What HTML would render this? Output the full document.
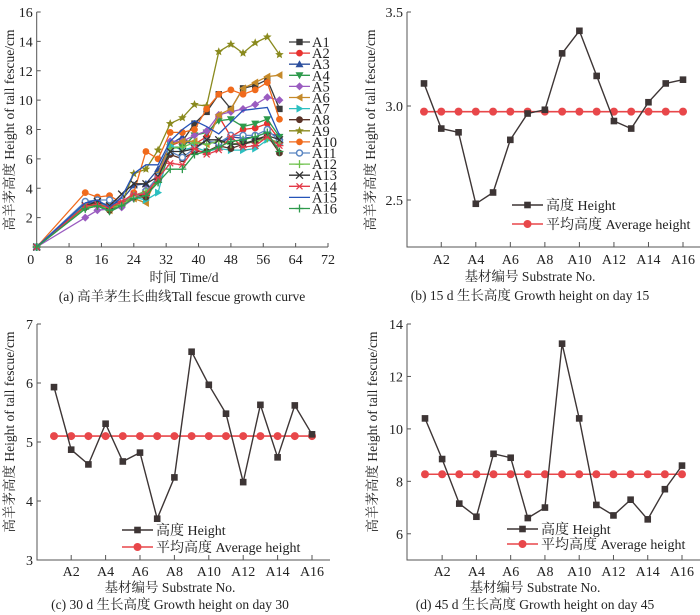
<!DOCTYPE html>
<html><head><meta charset="utf-8"><style>
html,body{margin:0;padding:0;background:#fff;}
svg{display:block;font-family:"Liberation Serif","Noto Serif CJK SC","Noto Sans CJK SC",serif;}
</style></head><body>
<svg id="chart" width="700" height="615" viewBox="0 0 700 615" xmlns="http://www.w3.org/2000/svg"></svg>
<script>
// ---- Panel (a) data ----
const days = [0,12,15,18,21,24,27,30,33,36,39,42,45,48,51,54,57,60];
const seriesNames = ["A1","A2","A3","A4","A5","A6","A7","A8","A9","A10","A11","A12","A13","A14","A15","A16"];
const sA1  = [0,3.0,3.0,2.8,3.0,3.5,3.5,4.8,7.0,7.2,8.4,9.2,10.4,9.4,10.8,11.0,11.4,9.4];
const sA2  = [0,2.9,3.0,2.6,3.1,3.5,3.6,4.7,6.9,7.2,7.0,7.5,8.9,7.5,8.0,8.1,8.4,7.3];
const sA3  = [0,2.9,3.1,2.8,3.2,4.2,4.3,5.3,7.0,7.5,6.8,7.2,7.0,7.5,7.4,7.5,7.8,7.5];
const sA4  = [0,2.6,2.8,2.4,2.8,3.3,3.5,4.5,6.8,6.8,7.6,7.8,8.6,8.7,8.2,8.4,8.7,7.5];
const sA5  = [0,2.0,2.5,2.6,2.7,3.3,3.9,4.5,7.2,7.2,7.6,7.9,9.0,9.2,9.4,9.7,10.2,10.0];
const sA6  = [0,2.8,3.0,2.5,3.0,3.3,3.0,5.0,7.0,7.2,7.2,7.0,9.0,9.4,10.8,11.2,11.6,11.7];
const sA7  = [0,2.9,3.0,2.8,3.0,3.4,3.2,3.7,6.9,6.6,6.8,6.5,6.7,6.6,6.6,6.7,7.3,7.0];
const sA8  = [0,2.7,2.9,2.5,3.0,3.4,3.4,4.6,6.3,6.0,6.5,6.5,6.9,6.7,7.0,7.2,7.6,6.4];
const sA9  = [0,2.8,3.0,2.6,3.0,5.0,5.3,6.6,8.4,8.8,9.7,9.6,13.3,13.8,13.2,13.9,14.3,13.1];
const sA10 = [0,3.7,3.4,3.5,3.0,3.7,6.5,6.0,7.8,7.8,8.0,9.4,10.4,10.7,10.4,10.7,11.2,8.7];
const sA11 = [0,3.1,3.2,3.2,3.1,3.5,3.8,4.8,6.5,6.1,6.7,7.2,7.1,7.6,7.6,7.6,8.0,7.2];
const sA12 = [0,2.7,2.8,2.6,2.9,3.5,3.8,4.4,6.7,6.8,7.1,7.0,7.2,7.0,7.1,7.2,7.4,7.1];
const sA13 = [0,2.8,3.1,2.8,3.6,4.3,4.3,4.8,6.5,6.5,6.7,7.3,7.3,7.0,7.0,7.3,7.6,7.3];
const sA14 = [0,2.8,2.9,2.7,3.1,3.6,3.6,4.7,5.7,5.6,6.7,6.3,6.6,7.5,6.8,6.9,7.5,6.9];
const sA15 = [0,3.0,3.2,2.7,3.4,5.0,5.6,5.6,7.2,8.0,8.6,8.2,7.7,8.5,9.3,9.4,9.5,7.6];
const sA16 = [0,2.6,2.8,2.5,2.8,3.3,3.5,4.4,5.3,5.3,6.3,6.5,6.8,7.2,7.3,7.5,7.8,6.5];
const xTicksA = [0,8,16,24,32,40,48,56,64,72];
const yTicksA = [2,4,6,8,10,12,14,16];
// ---- Panels (b)(c)(d) data ----
const substrates = ["A1","A2","A3","A4","A5","A6","A7","A8","A9","A10","A11","A12","A13","A14","A15","A16"];
const day15 = [3.12,2.88,2.86,2.48,2.54,2.82,2.96,2.98,3.28,3.40,3.16,2.92,2.88,3.02,3.12,3.14];
const avg15 = [2.97];
const day30 = [5.93,4.87,4.62,5.31,4.67,4.82,3.70,4.40,6.53,5.97,5.48,4.32,5.63,4.74,5.62,5.13];
const avg30 = [5.10];
const day45 = [10.4,8.85,7.15,6.65,9.05,8.9,6.6,7.0,13.25,10.4,7.1,6.7,7.3,6.55,7.7,8.6];
const avg45 = [8.27];
const yTicks15 = ["2.5","3.0","3.5"];
const yTicks30 = [3,4,5,6,7];
const yTicks45 = [6,8,10,12,14];
const xTickLabels = ["A2","A4","A6","A8","A10","A12","A14","A16"];

const NS="http://www.w3.org/2000/svg";
const svg=document.getElementById('chart');
function mk(tag,attrs,parent,text){const e=document.createElementNS(NS,tag);for(const k in attrs)e.setAttribute(k,attrs[k]);if(text!==undefined)e.textContent=text;(parent||svg).appendChild(e);return e;}

function marker(g,type,x,y,color){
  let e;
  const s=3.2;
  if(type==='square'){e=mk('rect',{x:x-s,y:y-s,width:2*s,height:2*s,fill:color},g);}
  else if(type==='circle'){e=mk('circle',{cx:x,cy:y,r:3.4,fill:color},g);}
  else if(type==='ocircle'){e=mk('circle',{cx:x,cy:y,r:3,fill:'#fff',stroke:color,'stroke-width':1.5},g);}
  else if(type==='up'){e=mk('polygon',{points:`${x},${y-4} ${x-4},${y+3} ${x+4},${y+3}`,fill:color},g);}
  else if(type==='down'){e=mk('polygon',{points:`${x},${y+4} ${x-4},${y-3} ${x+4},${y-3}`,fill:color},g);}
  else if(type==='left'){e=mk('polygon',{points:`${x-4},${y} ${x+3},${y-4} ${x+3},${y+4}`,fill:color},g);}
  else if(type==='right'){e=mk('polygon',{points:`${x+4},${y} ${x-3},${y-4} ${x-3},${y+4}`,fill:color},g);}
  else if(type==='diamond'){e=mk('polygon',{points:`${x},${y-4} ${x+4},${y} ${x},${y+4} ${x-4},${y}`,fill:color},g);}
  else if(type==='star'){let p=[];for(let i=0;i<10;i++){const r=i%2?2:4.5;const a=-Math.PI/2+i*Math.PI/5;p.push((x+r*Math.cos(a)).toFixed(1)+','+(y+r*Math.sin(a)).toFixed(1));}e=mk('polygon',{points:p.join(' '),fill:color},g);}
  else if(type==='plus'){e=mk('path',{d:`M${x-4},${y}H${x+4}M${x},${y-4}V${y+4}`,stroke:color,'stroke-width':1.3},g);}
  else if(type==='x'){e=mk('path',{d:`M${x-3.5},${y-3.5}L${x+3.5},${y+3.5}M${x-3.5},${y+3.5}L${x+3.5},${y-3.5}`,stroke:color,'stroke-width':1.3},g);}
  else if(type==='ast'){e=mk('path',{d:`M${x-4},${y}H${x+4}M${x-3},${y-3}L${x+3},${y+3}M${x-3},${y+3}L${x+3},${y-3}`,stroke:color,'stroke-width':1.2},g);}
  else return;
  
  
}
const txt={fill:'#222'};

// ================= Panel (a) =================
(function(){
  const g=mk('g',{});
  
  
  const X0=36.7,X1=328,Y0=247,Y1=12;
  const xs=v=>X0+(v-0)/(72-0)*(X1-X0);
  const ys=v=>Y0-(v-0)/(16-0)*(Y0-Y1);
  const ax=mk('path',{d:`M${X0},${Y1}V${Y0}H${X1}`,stroke:'#555',fill:'none','stroke-width':1},g);
   
  xTicksA.forEach(t=>{const x=xs(t);mk('line',{x1:x,y1:Y0,x2:x,y2:Y0-4,stroke:'#555'},g);
    const l=mk('text',{x:t===0?x-6:x,y:264,'text-anchor':'middle','font-size':14,...txt},g,String(t));
    });
  yTicksA.forEach(t=>{const y=ys(t);mk('line',{x1:X0,y1:y,x2:X0+4,y2:y,stroke:'#555'},g);
    const l=mk('text',{x:X0-4,y:y+5,'text-anchor':'end','font-size':14,...txt},g,String(t));
    });
  const specs=[
    [sA1,'#3b3b3b','square'],[sA2,'#e8322f','circle'],[sA3,'#2c4f9e','up'],[sA4,'#2e9a4c','down'],
    [sA5,'#9a5cc0','diamond'],[sA6,'#c58a2a','left'],[sA7,'#2bbfc0','right'],[sA8,'#5a3328','circle'],
    [sA9,'#8a8a1e','star'],[sA10,'#f06a1c','circle'],[sA11,'#5b86c2','ocircle'],[sA12,'#6cc04a','plus'],
    [sA13,'#333','x'],[sA14,'#e33a48','ast'],[sA15,'#2553b8','none'],[sA16,'#2e9a4c','plus']];
  specs.forEach((sp,i)=>{
    const [data,col,m]=sp;
    const sg=mk('g',{},g);
    
    
    const pts=data.map((v,j)=>xs(days[j]).toFixed(1)+','+ys(v).toFixed(1)).join(' ');
    mk('polyline',{points:pts,fill:'none',stroke:col,'stroke-width':1.3},sg);
    data.forEach((v,j)=>marker(sg,m,xs(days[j]),ys(v),col));
    const ly=42+i*11.1;
    const le=mk('g',{},g);
    
    
    mk('line',{x1:289,y1:ly,x2:310,y2:ly,stroke:col,'stroke-width':1.3},le);
    marker(le,m,299.5,ly,col);
    mk('text',{x:312,y:ly+5,'font-size':14.5,...txt},le,seriesNames[i]);
  });
  const yt=mk('text',{x:0,y:0,'font-size':13.5,'text-anchor':'middle',transform:`translate(14,130) rotate(-90)`,...txt},g,'高羊茅高度 Height of tall fescue/cm');
  
  const xt=mk('text',{x:184,y:282,'font-size':13.5,'text-anchor':'middle',...txt},g,'时间 Time/d');
  
  const cp=mk('text',{x:182,y:301,'font-size':13.5,'text-anchor':'middle',...txt},g,'(a) 高羊茅生长曲线Tall fescue growth curve');
  
})();

// ================= Panels (b)(c)(d) =================
function subPanel(o){
  const g=mk('g',{});
  
  
  const {X0,X1,Y0,Y1,ymin,ymax,xA1,xA16}=o;
  const xs=i=>xA1+i*(xA16-xA1)/15;
  const ys=v=>Y0-(v-ymin)/(ymax-ymin)*(Y0-Y1);
  const ax=mk('path',{d:`M${X0},${Y1}V${Y0}H${X1}`,stroke:'#555',fill:'none','stroke-width':1},g);
  
  xTickLabels.forEach((lab,k)=>{const i=substrates.indexOf(lab);const x=xs(i);
    mk('line',{x1:x,y1:Y0,x2:x,y2:Y0-5,stroke:'#555'},g);
    const l=mk('text',{x:x,y:Y0+o.tk,'text-anchor':'middle','font-size':14,...txt},g,lab);
    });
  o.yTicks.forEach(t=>{const y=ys(parseFloat(t));mk('line',{x1:X0,y1:y,x2:X0+4,y2:y,stroke:'#555'},g);
    const l=mk('text',{x:X0-4,y:y+5,'text-anchor':'end','font-size':14,...txt},g,String(t));
    });
  const ag=mk('g',{},g);
  
  
  const av=o.avg[0];
  mk('line',{x1:xs(0),y1:ys(av),x2:xs(15),y2:ys(av),stroke:'#e8474a','stroke-width':1.6},ag);
  substrates.forEach((s,i)=>mk('circle',{cx:xs(i),cy:ys(av),r:4,fill:'#e8474a'},ag));
  const hg=mk('g',{},g);
  
  
  mk('polyline',{points:o.data.map((v,i)=>xs(i).toFixed(1)+','+ys(v).toFixed(1)).join(' '),fill:'none',stroke:'#3d3535','stroke-width':1.4},hg);
  o.data.forEach((v,i)=>mk('rect',{x:xs(i)-3.3,y:ys(v)-3.3,width:6.6,height:6.6,fill:'#3d3535'},hg));
  const lg=mk('g',{},g);
  
  const [lx,ly1,ly2]=o.leg;
  mk('line',{x1:lx,y1:ly1,x2:lx+31,y2:ly1,stroke:'#3d3535','stroke-width':1.4},lg);
  mk('rect',{x:lx+12.2,y:ly1-3.3,width:6.6,height:6.6,fill:'#3d3535'},lg);
  mk('text',{x:lx+34,y:ly1+5,'font-size':14,...txt},lg,'高度 Height');
  mk('line',{x1:lx,y1:ly2,x2:lx+31,y2:ly2,stroke:'#e8474a','stroke-width':1.6},lg);
  mk('circle',{cx:lx+15.5,cy:ly2,r:4,fill:'#e8474a'},lg);
  mk('text',{x:lx+34,y:ly2+5,'font-size':14,...txt},lg,'平均高度 Average height');
  const yt=mk('text',{x:0,y:0,'font-size':13.5,'text-anchor':'middle',transform:`translate(${o.ytx},${o.yty}) rotate(-90)`,...txt},g,'高羊茅高度 Height of tall fescue/cm');
  
  const xt=mk('text',{x:o.cx,y:Y0+o.xo,'font-size':13.5,'text-anchor':'middle',...txt},g,'基材编号 Substrate No.');
  
  const cp=mk('text',{x:o.cx,y:Y0+o.co,'font-size':13.5,'text-anchor':'middle',...txt},g,o.caption);
  
}
subPanel({name:'panel-b-day-15',X0:407,X1:700,Y0:247,Y1:12,ymin:2.25,ymax:3.5,xA1:424,xA16:683,
  yTicks:yTicks15,data:day15,avg:avg15,leg:[512,205,224],ytx:375,yty:130,cx:530,tk:17,xo:34,co:53,
  caption:'(b) 15 d 生长高度 Growth height on day 15'});
subPanel({name:'panel-c-day-30',X0:37,X1:330,Y0:560,Y1:324,ymin:3,ymax:7,xA1:54,xA16:312,
  yTicks:yTicks30,data:day30,avg:avg30,leg:[122,530,547],ytx:14,yty:432,cx:170,tk:16,xo:32,co:49,
  caption:'(c) 30 d 生长高度 Growth height on day 30'});
subPanel({name:'panel-d-day-45',X0:407,X1:700,Y0:560,Y1:324,ymin:5,ymax:14,xA1:425,xA16:682,
  yTicks:yTicks45,data:day45,avg:avg45,leg:[507,529,544],ytx:377,yty:432,cx:535,tk:16,xo:32,co:49,
  caption:'(d) 45 d 生长高度 Growth height on day 45'});
</script>
</body></html>
